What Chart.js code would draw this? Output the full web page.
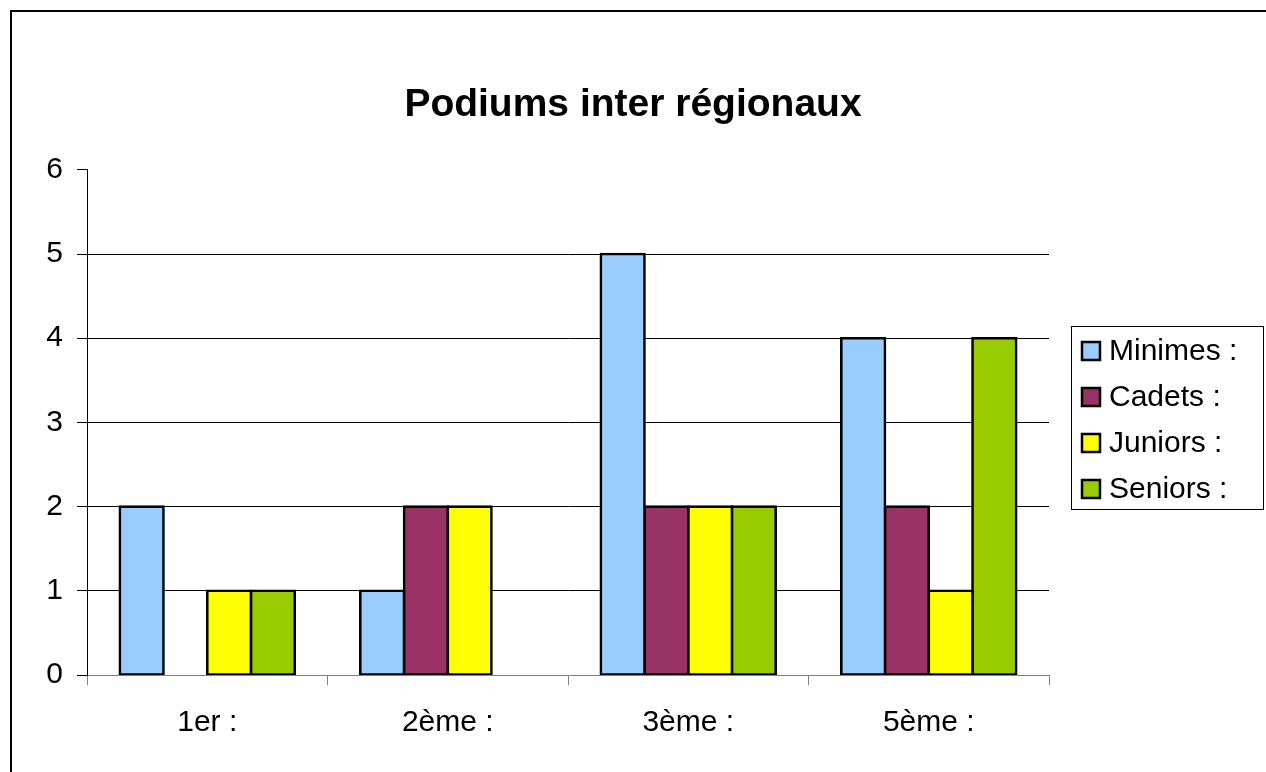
<!DOCTYPE html>
<html>
<head>
<meta charset="utf-8">
<script src="https://cdn.jsdelivr.net/npm/chart.js@4"></script>
<style>
  body { margin: 0; background: #fff; overflow: hidden; }
  #wrap { position: relative; width: 1266px; height: 772px; }
  #frame { position: absolute; left: 10px; top: 10px; width: 1400px; height: 900px; border: 2px solid #000; }
  #c { position: absolute; left: 0; top: 0; }
</style>
</head>
<body>
<div id="wrap">
  <div id="frame"></div>
  <canvas id="c" width="1266" height="772"></canvas>
</div>
<script>
// data *************************
const titleText = "Podiums inter régionaux";
const categories = ["1er :", "2ème :", "3ème :", "5ème :"];
const seriesNames = ["Minimes :", "Cadets :", "Juniors :", "Seniors :"];
const minimes = [2, 1, 5, 4];
const cadets  = [0, 2, 2, 2];
const juniors = [1, 2, 2, 1];
const seniors = [1, 0, 2, 4];
const colors = ["#99CCFF", "#993366", "#FFFF00", "#99CC00"];
// ******************************

const font = "'Liberation Sans', Arial, sans-serif";

// legend drawn as a framed box on the right, like the original
const boxLegend = {
  id: "boxLegend",
  afterDraw(chart) {
    const ctx = chart.ctx;
    ctx.save();
    ctx.strokeStyle = "#000";
    ctx.lineWidth = 1;
    ctx.strokeRect(1071.5, 326.5, 192, 183);
    ctx.font = "30px " + font;
    ctx.textBaseline = "middle";
    chart.data.datasets.forEach(function(ds, i) {
      var cy = 351 + i * 46;
      ctx.fillStyle = ds.backgroundColor;
      ctx.fillRect(1082, cy - 9, 18, 18);
      ctx.lineWidth = 2.5;
      ctx.strokeRect(1082, cy - 9, 18, 18);
      ctx.fillStyle = "#000";
      ctx.fillText(ds.label, 1109, cy + 1);
    });
    ctx.restore();
  }
};

const data = {
  labels: categories,
  datasets: [
    { label: seriesNames[0], data: minimes, backgroundColor: colors[0] },
    { label: seriesNames[1], data: cadets,  backgroundColor: colors[1] },
    { label: seriesNames[2], data: juniors, backgroundColor: colors[2] },
    { label: seriesNames[3], data: seniors, backgroundColor: colors[3] }
  ]
};
data.datasets.forEach(function(ds) {
  ds.borderColor = "#000";
  ds.borderWidth = 2.6;
  ds.inflateAmount = 1.3; // border ends up centred on the bar edge
  ds.borderSkipped = false;
  ds.categoryPercentage = 4 / 5.5;
  ds.barPercentage = 1;
});

new Chart(document.getElementById("c"), {
  type: "bar",
  data: data,
  plugins: [boxLegend],
  options: {
    responsive: false,
    animation: false,
    layout: { padding: 0 },
    plugins: {
      legend: { display: false },
      tooltip: { enabled: false },
      title: {
        display: true,
        text: titleText,
        color: "#000",
        font: { family: font, size: 39, weight: "bold", lineHeight: 1.2 },
        padding: { top: 82, bottom: 41 }
      }
    },
    scales: {
      x: {
        grid: { drawOnChartArea: false, tickLength: 10, tickColor: "#808080", offset: true },
        border: { color: "#808080", width: 1 },
        ticks: { color: "#000", font: { family: font, size: 30 }, padding: 20 },
        afterFit: function(s) { s.height = 97; }
      },
      y: {
        min: 0,
        max: 6,
        ticks: { stepSize: 1, color: "#000", font: { family: font, size: 30 }, padding: 14 },
        grid: {
          tickLength: 10,
          tickColor: "#000",
          color: function(c) { return (c.tick && (c.tick.value === 6 || c.tick.value === 0)) ? "rgba(0,0,0,0)" : "#000"; }
        },
        border: { color: "#000", width: 1 },
        afterFit: function(s) { s.width = 87; }
      },
      // empty right box reserves the legend space so the plot ends where the original does
      yr: {
        position: "right",
        display: true,
        grid: { display: false },
        border: { display: false },
        ticks: { display: false },
        afterFit: function(s) { s.width = 217; }
      }
    }
  }
});
</script>
</body>
</html>
